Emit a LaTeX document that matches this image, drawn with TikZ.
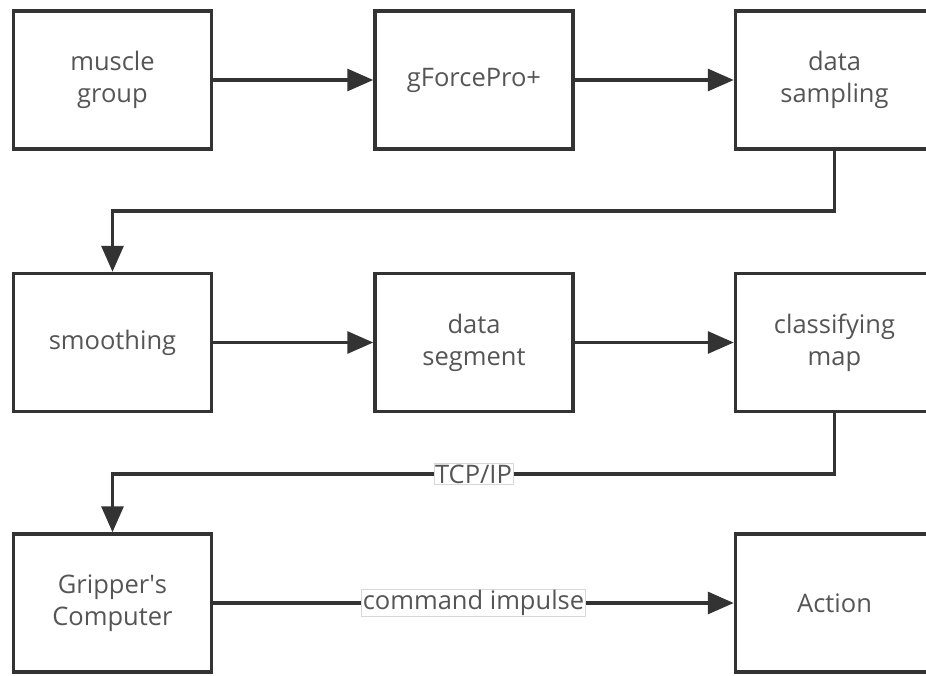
\documentclass[tikz,border=0pt]{standalone}
\usepackage{fontspec}
\setmainfont{Open Sans}
\usetikzlibrary{positioning,arrows.meta}
\definecolor{dgray}{RGB}{51,51,51}
\definecolor{tgray}{RGB}{85,85,85}
\definecolor{lgray}{RGB}{215,215,215}

\begin{document}
\begin{tikzpicture}[x=1pt,y=-1pt]
\tikzstyle{block}=[rectangle, minimum width=198pt, minimum height=138pt, line width=3.5pt, draw=dgray, align=center, text=tgray, font=\fontsize{25.5}{32}\selectfont]
\tikzstyle{connect}=[-{Triangle[length=26pt,width=22pt]}, line width=3.2pt, draw=dgray]
\tikzstyle{lbl}=[rectangle, fill=white, draw=lgray, line width=0.6pt, inner sep=1pt, text=tgray, font=\fontsize{25.5}{28}\selectfont]

	\useasboundingbox (0,0) rectangle (926,675);
	\clip (0,0) rectangle (926,675);

	\node[block] (muscle) at (112.5,80) {muscle\\group};
	\node[block] (gforce) at (474,80) {gForcePro+};
	\node[block] (sampl) at (834.5,80) {data\\sampling};

	\node[block] (smooth) at (112.5,342.5) {smoothing};
	\node[block] (segm) at (474,342.5) {data\\segment};
	\node[block] (class) at (834.5,342.5) {classifying\\map};

	\node[block] (grip) at (112.5,603) {Gripper\textquotesingle s\\Computer};
	\node[block] (act) at (834.5,603) {Action};

	\coordinate (c0) at (834.5,211);
	\coordinate (c1) at (834.5,474);

	\path
		(muscle) edge [connect] (gforce)
		(gforce) edge [connect] (sampl)
		(smooth) edge [connect] (segm)
		(segm) edge [connect] (class);

	\draw[connect] (sampl.south) -- (c0) -| (smooth.north);
	\draw[connect] (class.south) -- (c1) -| node[lbl, pos=0.25] {TCP/IP} (grip.north);

	\path
		(grip) edge [connect] node[lbl] {command impulse} (act);

\end{tikzpicture}
\end{document}
